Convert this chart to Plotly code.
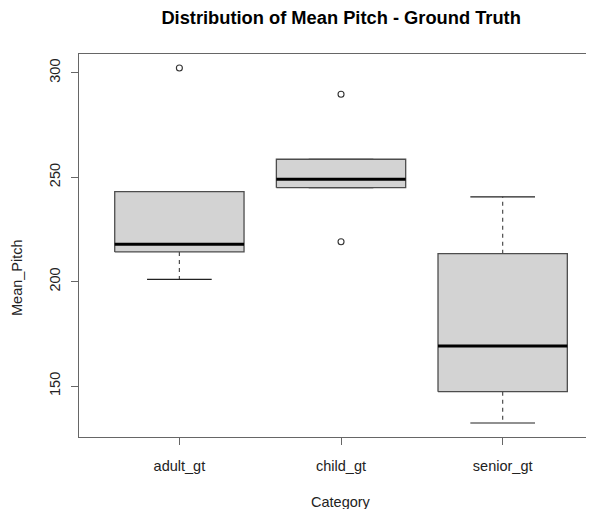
import plotly.graph_objects as go

categories = ["adult_gt", "child_gt", "senior_gt"]
q1_vals = [214.2, 245.0, 147.3]
median_vals = [217.9, 249.0, 169.2]
q3_vals = [243.1, 258.6, 213.4]
lower_whisker = [201.1, 245.0, 132.3]
upper_whisker = [243.1, 258.6, 240.6]
outliers = [[302.3], [289.7, 219.1], []]
y_ticks = [150, 200, 250, 300]

BOX_HALF = 0.4
CAP_HALF = 0.2
EDGE = "#4d4d4d"
FONT = "Liberation Sans, Arial, sans-serif"

fig = go.Figure()
for i, cat in enumerate(categories):
    x = i + 1
    # whiskers (dashed)
    fig.add_trace(go.Scatter(x=[x, x], y=[q3_vals[i], upper_whisker[i]], mode="lines",
                             line=dict(color=EDGE, width=1.2, dash="4px,4px"), showlegend=False, hoverinfo="skip"))
    fig.add_trace(go.Scatter(x=[x, x], y=[q1_vals[i], lower_whisker[i]], mode="lines",
                             line=dict(color=EDGE, width=1.2, dash="4px,4px"), showlegend=False, hoverinfo="skip"))
    # caps
    for w in (upper_whisker[i], lower_whisker[i]):
        fig.add_trace(go.Scatter(x=[x - CAP_HALF, x + CAP_HALF], y=[w, w], mode="lines",
                                 line=dict(color="#222222", width=1.2), showlegend=False, hoverinfo="skip"))
    # box
    fig.add_trace(go.Scatter(x=[x - BOX_HALF, x + BOX_HALF, x + BOX_HALF, x - BOX_HALF, x - BOX_HALF],
                             y=[q1_vals[i], q1_vals[i], q3_vals[i], q3_vals[i], q1_vals[i]],
                             mode="lines", fill="toself", fillcolor="#d3d3d3",
                             line=dict(color=EDGE, width=1.3), showlegend=False, hoverinfo="skip"))
    # median
    fig.add_trace(go.Scatter(x=[x - BOX_HALF, x + BOX_HALF], y=[median_vals[i], median_vals[i]], mode="lines",
                             line=dict(color="black", width=3), showlegend=False, hoverinfo="skip"))
    # outliers
    if outliers[i]:
        fig.add_trace(go.Scatter(x=[x] * len(outliers[i]), y=outliers[i], mode="markers",
                                 marker=dict(symbol="circle-open", size=6, color="#333333", line=dict(width=1.1)),
                                 showlegend=False, hoverinfo="skip"))

# page body has an 8px margin, so the figure is drawn 8px smaller and offset
fig.update_layout(
    width=586, height=501,
    margin=dict(l=71, r=0, t=46, b=72),
    paper_bgcolor="white", plot_bgcolor="white",
    font=dict(family=FONT, size=14.5, color="#222222"),
    title=dict(text="<b>Distribution of Mean Pitch - Ground Truth</b>", x=0.509, xref="paper",
               xanchor="center", y=1 - 10 / 501, yref="container", yanchor="middle",
               font=dict(size=18.3, color="black", family=FONT)),
    xaxis=dict(range=[0.379, 3.565], tickvals=[1, 2, 3], ticktext=categories, automargin=False,
               showgrid=False, zeroline=False, showline=True, mirror=True, linecolor="#666666", linewidth=1.3,
               ticks="outside", ticklen=7, tickcolor="#666666", tickwidth=1.2, ticklabelstandoff=8),
    yaxis=dict(range=[125.6, 309.0], tickvals=y_ticks, ticktext=[str(v) for v in y_ticks], automargin=False,
               tickangle=-90, showgrid=False, zeroline=False, showline=True, linecolor="#666666", linewidth=1.3,
               ticks="outside", ticklen=7, tickcolor="#666666", tickwidth=1.2, ticklabelstandoff=5),
    annotations=[
        dict(text="Category", xref="paper", yref="paper", x=(341 - 79) / 515, y=-(502 - 437) / 383,
             xanchor="center", yanchor="middle", showarrow=False, font=dict(size=14.5, color="#222222")),
        dict(text="Mean_Pitch", xref="paper", yref="paper", x=-(79 - 17) / 515, y=(437 - 278) / 383,
             xanchor="center", yanchor="middle", textangle=-90, showarrow=False,
             font=dict(size=14.5, color="#222222")),
    ],
)

fig.write_html("out.html")
